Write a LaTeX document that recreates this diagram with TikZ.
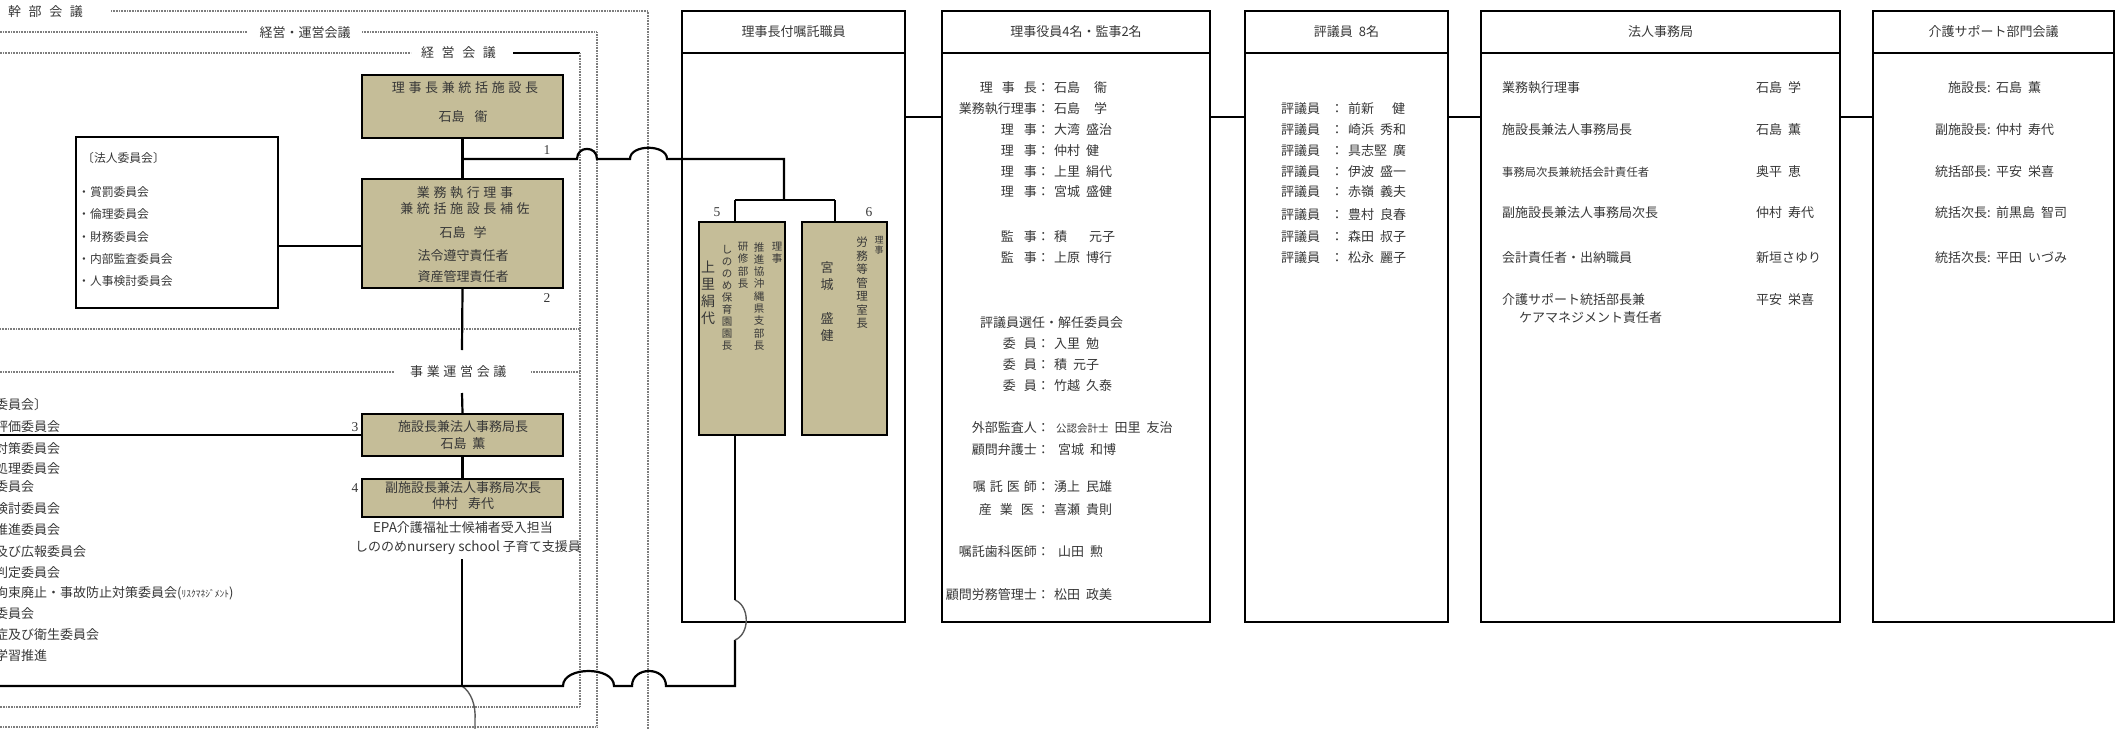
\documentclass[tikz,border=0pt]{standalone}
\usepackage{fontspec}
\setmainfont{Liberation Serif}
\newfontfamily\jp{Noto Sans CJK JP}
\newfontfamily\jpls[LetterSpace=28]{Noto Sans CJK JP}
\newfontfamily\jplw[LetterSpace=58]{Noto Sans CJK JP}
\usetikzlibrary{fit}
\definecolor{tanc}{RGB}{197,189,152}
\definecolor{txc}{RGB}{55,55,55}
\definecolor{dotc}{RGB}{125,125,125}
\newcommand{\fz}[1]{\fontsize{#1}{#1}\selectfont}
\newcommand{\hs}[1]{\hspace{#1pt}}
\begin{document}
\begin{tikzpicture}[x=1pt,y=-1pt,
  conn/.style={line width=2.2pt},
  jump/.style={line width=1.4pt, draw=black!65},
  dotl/.style={line width=1.8pt, draw=dotc, dash pattern=on 0.8pt off 0.8pt},
  tanbox/.style={draw, line width=2.4pt, fill=tanc, inner sep=0},
  panel/.style={draw, line width=2.4pt, inner sep=0},
  t/.style={font=\jp\fz{13}, text=txc, inner sep=0},
  ts/.style={font=\jp\fz{11.8}, text=txc, inner sep=0},
  tls/.style={font=\jpls\fz{13}, text=txc, inner sep=0},
  tlw/.style={font=\jplw\fz{13}, text=txc, inner sep=0},
  num/.style={font=\fz{13.5}, text=txc, inner sep=0},
  vt/.style={align=center, inner sep=0, text=txc, anchor=north}
]
\useasboundingbox (0,0) rectangle (2117,728);
\clip (0,0) rectangle (2117,728);

% ---------- dotted meeting frames ----------
\draw[dotl] (111,11) -- (648,11) -- (648,740);
\draw[dotl] (-5,32) -- (247,32);
\draw[dotl] (362,32) -- (597,32) -- (597,727) -- (-5,727);
\draw[dotl] (-5,53) -- (411,53);
\draw[line width=1.6pt] (513,53) -- (580,53);
\draw[dotl] (580,53) -- (580,707) -- (-5,707);
\draw[dotl] (580,329) -- (-5,329);
\draw[dotl] (-5,372) -- (394,372);
\draw[dotl] (531,372) -- (580,372);

\node[tlw, anchor=west] (lkanbu) at (8,12) {幹部会議};
\node[t] (lkeiun) at (305,33) {経営・運営会議};
\node[tlw, anchor=west] (lkeiei) at (421,53) {経営会議};
\node[tls, anchor=west] (ljigyo) at (410,372) {事業運営会議};

% ---------- left column boxes ----------
\node[tanbox, fit={(362,75)(563,138)}] (b1) {};
\node[tanbox, fit={(362,179)(563,288)}] (b2) {};
\node[tanbox, fit={(362,414)(563,456)}] (b3) {};
\node[tanbox, fit={(362,479)(563,517)}] (b4) {};
\node[panel, fit={(76,137)(278,308)}] (hb) {};

\node[tls] (b1t1) at (465,88) {理事長兼統括施設長};
\node[t] (b1t2) at (463,117) {石島\hs{10}衞};
\node[tls] (b2t1) at (465,193) {業務執行理事};
\node[tls] (b2t2) at (465,209) {兼統括施設長補佐};
\node[t] (b2t3) at (463,233) {石島\hs{8}学};
\node[t] (b2t4) at (463,256) {法令遵守責任者};
\node[t] (b2t5) at (463,277) {資産管理責任者};
\node[t] (b3t1) at (463,427) {施設長兼法人事務局長};
\node[t] (b3t2) at (463,444) {石島\hs{6}薫};
\node[t] (b4t1) at (463,488) {副施設長兼法人事務局次長};
\node[t] (b4t2) at (463,504) {仲村\hs{10}寿代};
\node[t] (epa) at (463,528) {{\fz{13.5}EPA}介護福祉士候補者受入担当};
\node[t] (shino) at (468,548) {しののめ{\fz{13.5}nursery school} 子育て支援員};

\node[num] (n1) at (547,150) {1};
\node[num] (n2) at (547,298) {2};
\node[num] (n3) at (355,427) {3};
\node[num] (n4) at (355,488) {4};

\node[ts, anchor=west] (hb0) at (82,158) {〔法人委員会〕};
\node[ts, anchor=west] (hb1) at (78,192) {・賞罰委員会};
\node[ts, anchor=west] (hb2) at (78,214) {・倫理委員会};
\node[ts, anchor=west] (hb3) at (78,237) {・財務委員会};
\node[ts, anchor=west] (hb4) at (78,259) {・内部監査委員会};
\node[ts, anchor=west] (hb5) at (78,281) {・人事検討委員会};

% left list (cut at the picture's left edge as in the original)
\node[t, anchor=west] (L1) at (-5,405) {委員会〕};
\node[t, anchor=west] (L2) at (-5,427) {評価委員会};
\node[t, anchor=west] (L3) at (-5,449) {対策委員会};
\node[t, anchor=west] (L4) at (-5,469) {処理委員会};
\node[t, anchor=west] (L5) at (-5,487) {委員会};
\node[t, anchor=west] (L6) at (-5,509) {検討委員会};
\node[t, anchor=west] (L7) at (-5,530) {推進委員会};
\node[t, anchor=west] (L8) at (-5,552) {及び広報委員会};
\node[t, anchor=west] (L9) at (-5,573) {判定委員会};
\node[t, anchor=west] (L10) at (-5,593) {拘束廃止・事故防止対策委員会({\fz{9.5}ﾘｽｸﾏﾈｼﾞﾒﾝﾄ})};
\node[t, anchor=west] (L11) at (-5,614) {委員会};
\node[t, anchor=west] (L12) at (-5,635) {症及び衛生委員会};
\node[t, anchor=west] (L13) at (-5,656) {学習推進};

% ---------- right panels ----------
\node[panel, fit={(682,11)(905,622)}] (pA) {};
\node[panel, fit={(682,11)(905,53)}] (pAh) {};
\node[panel, fit={(942,11)(1210,622)}] (pB) {};
\node[panel, fit={(942,11)(1210,53)}] (pBh) {};
\node[panel, fit={(1245,11)(1448,622)}] (pC) {};
\node[panel, fit={(1245,11)(1448,53)}] (pCh) {};
\node[panel, fit={(1481,11)(1840,622)}] (pD) {};
\node[panel, fit={(1481,11)(1840,53)}] (pDh) {};
\node[panel, fit={(1873,11)(2114,622)}] (pE) {};
\node[panel, fit={(1873,11)(2114,53)}] (pEh) {};

\node[t] (pAt) at (pAh.center) {理事長付嘱託職員};
\node[t] (pBt) at (pBh.center) {理事役員4名・監事2名};
\node[t] (pCt) at (pCh.center) {評議員\hs{6}8名};
\node[t] (pDt) at (pDh.center) {法人事務局};
\node[t] (pEt) at (pEh.center) {介護サポート部門会議};

% boxes 5 and 6
\node[tanbox, fit={(699,222)(785,435)}] (b5) {};
\node[tanbox, fit={(802,222)(887,435)}] (b6) {};
\node[num] (n5) at (717,212) {5};
\node[num] (n6) at (869,212) {6};
\node[vt, font=\jp\fontsize{10.5}{12.3}\selectfont] (v51) at (777,242) {理\\事};
\node[vt, font=\jp\fontsize{10.5}{12.3}\selectfont] (v52) at (759,242) {推\\進\\協\\沖\\縄\\県\\支\\部\\長};
\node[vt, font=\jp\fontsize{10.5}{12.3}\selectfont] (v53) at (743,242) {研\\修\\部\\長};
\node[vt, font=\jp\fontsize{10.5}{12}\selectfont] (v54) at (727,245) {し\\の\\の\\め\\保\\育\\園\\園\\長};
\node[vt, font=\jp\fontsize{14}{17}\selectfont] (v55) at (708,261) {上\\里\\絹\\代};
\node[vt, font=\jp\fontsize{9}{10}\selectfont] (v61) at (879,236) {理\\事};
\node[vt, font=\jp\fontsize{11.5}{13.5}\selectfont] (v62) at (862,237) {労\\務\\等\\管\\理\\室\\長};
\node[vt, font=\jp\fontsize{13}{17}\selectfont] (v63) at (827,261) {宮\\城\\[17pt]盛\\健};

% panel B rows
\foreach \yy/\lab/\nm in {
  88/{理\hs{9}事\hs{9}長：}/{石島\hs{14}衞},
  109/{業務執行理事：}/{石島\hs{14}学},
  130/{理\hs{10}事：}/{大湾\hs{6}盛治},
  151/{理\hs{10}事：}/{仲村\hs{6}健},
  172/{理\hs{10}事：}/{上里\hs{6}絹代},
  192/{理\hs{10}事：}/{宮城\hs{6}盛健},
  237/{監\hs{10}事：}/{積\hs{22}元子},
  258/{監\hs{10}事：}/{上原\hs{6}博行},
  344/{委\hs{8}員：}/{入里\hs{6}勉},
  365/{委\hs{8}員：}/{積\hs{6}元子},
  386/{委\hs{8}員：}/{竹越\hs{6}久泰},
  487/{嘱\hs{4}託\hs{4}医\hs{4}師：}/{湧上\hs{6}民雄},
  510/{産\hs{8}業\hs{8}医\hs{3}：}/{喜瀬\hs{6}貴則},
  595/{顧問労務管理士：}/{松田\hs{6}政美}}
{
  \node[t, anchor=east] at (1050,\yy) {\lab};
  \node[t, anchor=west] at (1054,\yy) {\nm};
}
\node[t, anchor=west] (bsel) at (980,323) {評議員選任・解任委員会};
\node[t, anchor=east] (bgai) at (1050,428) {外部監査人：};
\node[t, anchor=west] (bgain) at (1056,428) {{\fz{10.5}公認会計士}\hs{6}田里\hs{6}友治};
\node[t, anchor=east] (bben) at (1050,450) {顧問弁護士：};
\node[t, anchor=west] (bbenn) at (1058,450) {宮城\hs{6}和博};
\node[t, anchor=east] (bshi) at (1050,552) {嘱託歯科医師：};
\node[t, anchor=west] (bshin) at (1058,552) {山田\hs{6}勲};

% panel C rows
\foreach \yy/\nm in {109/{前新\hs{18}健},130/{崎浜\hs{6}秀和},151/{具志堅\hs{6}廣},172/{伊波\hs{6}盛一},192/{赤嶺\hs{6}義夫},215/{豊村\hs{6}良春},237/{森田\hs{6}叔子},258/{松永\hs{6}麗子}}
{
  \node[t, anchor=west] at (1281,\yy) {評議員};
  \node[t] at (1337,\yy) {：};
  \node[t, anchor=west] at (1348,\yy) {\nm};
}

% panel D rows
\node[t, anchor=west] (d1) at (1502,88) {業務執行理事};
\node[t, anchor=west] (d1n) at (1756,88) {石島\hs{6}学};
\node[t, anchor=west] (d2) at (1502,130) {施設長兼法人事務局長};
\node[t, anchor=west] (d2n) at (1756,130) {石島\hs{6}薫};
\node[ts, anchor=west, font=\jp\fz{11.3}] (d3) at (1502,172) {事務局次長兼統括会計責任者};
\node[t, anchor=west] (d3n) at (1756,172) {奥平\hs{6}恵};
\node[t, anchor=west] (d4) at (1502,213) {副施設長兼法人事務局次長};
\node[t, anchor=west] (d4n) at (1756,213) {仲村\hs{6}寿代};
\node[t, anchor=west] (d5) at (1502,258) {会計責任者・出納職員};
\node[t, anchor=west] (d5n) at (1756,258) {新垣さゆり};
\node[t, anchor=west] (d6) at (1502,300) {介護サポート統括部長兼};
\node[t, anchor=west] (d6b) at (1519,318) {ケアマネジメント責任者};
\node[t, anchor=west] (d6n) at (1756,300) {平安\hs{6}栄喜};

% panel E rows
\foreach \yy/\lab/\nm in {88/施設長:/{石島\hs{6}薫},130/副施設長:/{仲村\hs{6}寿代},172/統括部長:/{平安\hs{6}栄喜},213/統括次長:/{前黒島\hs{6}智司},258/統括次長:/{平田\hs{6}いづみ}}
{
  \node[t, anchor=east] at (1991,\yy) {\lab};
  \node[t, anchor=west] at (1996,\yy) {\nm};
}

% ---------- connectors ----------
\coordinate (j1) at (462,159);
\coordinate (j2) at (300,246);
\coordinate (h117) at (0,117);
\coordinate (k5) at (735,200);
\coordinate (k6) at (835,200);
\coordinate (jb) at (735,686);

\draw[conn] (b1.south) -- (b2.north);
\draw[conn] (b2.south) -- (462,350);
\draw[conn] (462,393) -- (b3.north);
\draw[conn] (b3.south) -- (b4.north);
\draw[conn] (462,559) -- (462,686);
\draw[jump] (462,686) .. controls (471,692) and (476,705) .. (475,720) -- (475,740);

\draw[conn] (hb.east |- j2) -- (b2.west |- j2);
\draw[conn] (-5,435) -- (b3.west);

\draw[conn] (j1) -- (577,159) .. controls (577,145.5) and (597,145.5) .. (597,159) -- (630,159) .. controls (630,144) and (667,144) .. (667,159) -- (784,159) -- (784,200);
\draw[conn] (k5) -- (k6);
\draw[conn] (k5) -- (k5 |- b5.north);
\draw[conn] (k6) -- (k6 |- b6.north);

\draw[conn] (-5,686) -- (563,686) .. controls (563,666) and (614,666) .. (614,686) -- (632,686) .. controls (632,666) and (666,666) .. (666,686) -- (jb) -- (735,640);
\draw[jump] (735,640) .. controls (750,634) and (750,606) .. (735,600);
\draw[conn] (735,600) -- (b5.south -| k5);

\draw[conn] (pA.east |- h117) -- (pB.west |- h117);
\draw[conn] (pB.east |- h117) -- (pC.west |- h117);
\draw[conn] (pC.east |- h117) -- (pD.west |- h117);
\draw[conn] (pD.east |- h117) -- (pE.west |- h117);
\end{tikzpicture}
\end{document}
